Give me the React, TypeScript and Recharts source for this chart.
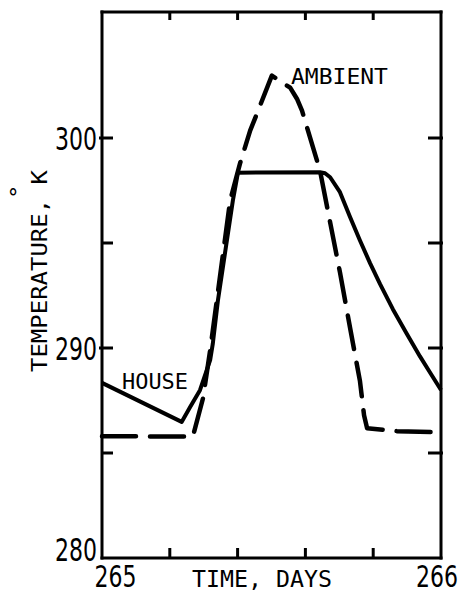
import React from 'react';
import { LineChart, Line, XAxis, YAxis, ReferenceDot } from 'recharts';

// Time axis (days) and temperature axis (K)
const dayTicks = [265, 265.2, 265.4, 265.6, 265.8, 266];
const dayTickLabels = ['265', '', '', '', '', '266'];
const tempTicks = [280, 285, 290, 295, 300];
const tempTickLabels = ['280', '', '290', '', '300'];

// House interior temperature
const houseDays = [
  265.0, 265.235, 265.26, 265.289, 265.319, 265.327, 265.342, 265.386, 265.401,
  265.643, 265.658, 265.673, 265.702, 265.732, 265.761, 265.791, 265.82,
  265.858, 265.899, 265.938, 265.969, 266.0,
];
const houseTemps = [
  288.34, 286.48, 287.19, 287.99, 289.42, 290.22, 292.27, 297.02, 298.35,
  298.37, 298.32, 298.13, 297.42, 296.23, 295.12, 294.03, 293.05,
  291.85, 290.68, 289.6, 288.8, 288.0,
];

// Ambient (outdoor) temperature
const ambientDays = [
  265.0, 265.268, 265.298, 265.319, 265.378, 265.407, 265.437, 265.457,
  265.501, 265.528, 265.555, 265.575, 265.59, 265.643, 265.673, 265.702,
  265.732, 265.761, 265.773, 265.782, 265.87, 266.0,
];
const ambientTemps = [
  285.8, 285.78, 287.61, 289.89, 297.02, 298.78, 300.35, 301.16,
  302.97, 302.68, 302.4, 301.87, 301.3, 298.45, 295.98, 293.6,
  290.94, 288.42, 286.8, 286.18, 286.04, 285.99,
];

const house = houseDays.map((t, i) => ({ t, T: houseTemps[i] }));
const ambient = ambientDays.map((t, i) => ({ t, T: ambientTemps[i] }));

const MONO = '"DejaVu Sans Mono", monospace';
const SANS = '"DejaVu Sans", sans-serif';
const INK = '#000';

// Tall, narrow numerals: regular glyphs stretched vertically
function Numeral({ x, y, anchor, stretch, children }: any) {
  return (
    <text transform={`translate(${x} ${y}) scale(1 ${stretch})`} x={0} y={0}
      textAnchor={anchor} fontFamily={SANS} fontSize={22} fill={INK}>{children}</text>
  );
}

function BottomTick(props: any) {
  const { x, y, index } = props;
  const label = dayTickLabels[index];
  if (label) {
    const shift = index === 0 ? 13.5 : -4;
    return <Numeral x={x + shift} y={y + 29} anchor="middle" stretch={1.4}>{label}</Numeral>;
  }
  return <line x1={x} x2={x} y1={y} y2={y - 10} stroke={INK} strokeWidth={3} />;
}

function TopTick(props: any) {
  const { x, y, index } = props;
  if (index === 0 || index === dayTicks.length - 1) return <g />;
  return <line x1={x} x2={x} y1={y} y2={y + 8} stroke={INK} strokeWidth={3} />;
}

function LeftTick(props: any) {
  const { x, y, index } = props;
  const label = tempTickLabels[index];
  const baseline = index === 0 ? y + 3 : y + 12;
  return (
    <g>
      {index !== 0 && (
        <line x1={label ? x - 3 : x} x2={x + 11} y1={y} y2={y} stroke={INK} strokeWidth={3} />
      )}
      {label && <Numeral x={x - 5} y={baseline} anchor="end" stretch={1.45}>{label}</Numeral>}
    </g>
  );
}

function RightTick(props: any) {
  const { x, y, index } = props;
  if (index === 0) return <g />;
  return <line x1={x + 2} x2={x - 13} y1={y} y2={y} stroke={INK} strokeWidth={3} />;
}

function TimeTitle(props: any) {
  const vb = props.viewBox || { x: 102, y: 558, width: 339 };
  return (
    <text x={vb.x + vb.width / 2 - 9.5} y={vb.y + 29} textAnchor="middle" fontFamily={MONO}
      fontSize={23} textLength={140} lengthAdjust="spacingAndGlyphs" fill={INK}>TIME, DAYS</text>
  );
}

function TempTitle(props: any) {
  const vb = props.viewBox || { x: 42, y: 12 };
  const bx = vb.x + 5;
  const by = vb.y + 360;
  return (
    <text x={bx} y={by} transform={`rotate(-90 ${bx} ${by})`} fontFamily={MONO} fontSize={22}
      textLength={202} lengthAdjust="spacingAndGlyphs" fill={INK}>
      TEMPERATURE,<tspan dy={-21}>°</tspan><tspan dy={21}>K</tspan>
    </text>
  );
}

function SeriesName(text: string, width: number) {
  return (p: any) => (
    <text x={p.cx} y={p.cy} fontFamily={MONO} fontSize={22} textLength={width}
      lengthAdjust="spacingAndGlyphs" fill={INK}>{text}</text>
  );
}

const frame = { stroke: INK, strokeWidth: 3, strokeLinecap: 'square' as const };

export default function App() {
  return (
    <div style={{ position: 'absolute', left: 0, top: 0, width: 462, height: 595, background: '#fff' }}>
      <LineChart width={462} height={595} margin={{ top: 11, right: 20, bottom: 7, left: 42 }}>
        <XAxis xAxisId="bottom" dataKey="t" type="number" domain={[265, 266]} ticks={dayTicks}
          interval={0} height={30} tickSize={0} tickMargin={0} tickLine={false} axisLine={frame}
          tick={(p: any) => <BottomTick {...p} />} label={<TimeTitle />} />
        <XAxis xAxisId="top" orientation="top" dataKey="t" type="number" domain={[265, 266]}
          ticks={dayTicks} interval={0} height={1} tickSize={0} tickMargin={0} tickLine={false}
          axisLine={frame} tick={(p: any) => <TopTick {...p} />} />
        <YAxis yAxisId="left" type="number" domain={[280, 306]} ticks={tempTicks} interval={0}
          width={60} tickSize={0} tickMargin={0} tickLine={false} axisLine={frame}
          tick={(p: any) => <LeftTick {...p} />} label={<TempTitle />} />
        <YAxis yAxisId="right" orientation="right" type="number" domain={[280, 306]}
          ticks={tempTicks} interval={0} width={1} tickSize={0} tickMargin={0} tickLine={false}
          axisLine={frame} tick={(p: any) => <RightTick {...p} />} />
        <Line xAxisId="bottom" yAxisId="left" data={ambient} dataKey="T" type="linear"
          stroke={INK} strokeWidth={4.5} strokeDasharray="34 14" strokeLinecap="round"
          strokeLinejoin="round" dot={false} activeDot={false} isAnimationActive={false} />
        <Line xAxisId="top" yAxisId="right" data={house} dataKey="T" type="linear"
          stroke={INK} strokeWidth={4} strokeLinejoin="round" dot={false} activeDot={false}
          isAnimationActive={false} />
        <ReferenceDot xAxisId="bottom" yAxisId="left" x={265.5575} y={302.59} r={0}
          shape={SeriesName('AMBIENT', 97)} />
        <ReferenceDot xAxisId="bottom" yAxisId="left" x={265.059} y={288.04} r={0}
          shape={SeriesName('HOUSE', 66)} />
      </LineChart>
    </div>
  );
}
